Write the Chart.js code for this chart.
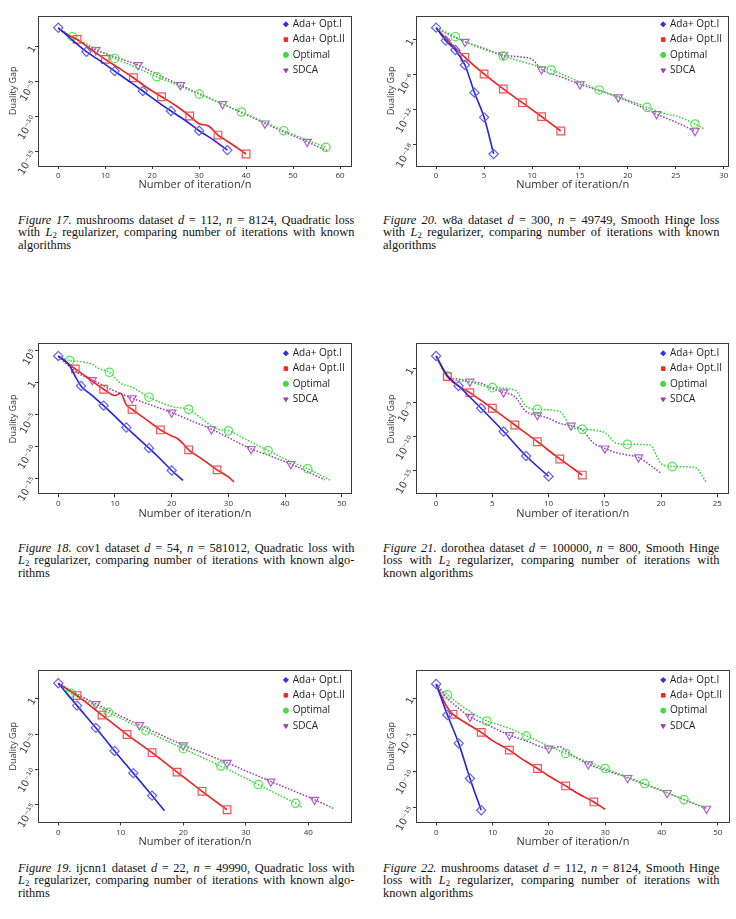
<!DOCTYPE html>
<html><head><meta charset="utf-8">
<script src="https://cdn.jsdelivr.net/npm/chart.js"></script>
<style>
body{margin:0;width:736px;height:919px;position:relative;background:#fff;overflow:hidden}
canvas{position:absolute}
.cap{position:absolute;width:325px;font-family:'Liberation Serif','Times New Roman',serif;font-size:12px;line-height:12.3px;color:#111;transform:scaleX(1.035);transform-origin:0 0}
.cap .j{text-align:justify;text-align-last:justify}
.cap sub{font-size:8.5px;vertical-align:-2px;line-height:0}
</style>
</head><body>
<div class="cap" style="left:18px;top:214px"><div class="j"><i>Figure 17.</i> mushrooms dataset <i>d</i> = 112, <i>n</i> = 8124, Quadratic loss</div><div class="j">with <i>L</i><sub>2</sub> regularizer, comparing number of iterations with known</div><div>algorithms</div></div>
<div class="cap" style="left:383px;top:214px"><div class="j"><i>Figure 20.</i> w8a dataset <i>d</i> = 300, <i>n</i> = 49749, Smooth Hinge loss</div><div class="j">with <i>L</i><sub>2</sub> regularizer, comparing number of iterations with known</div><div>algorithms</div></div>
<div class="cap" style="left:18px;top:542px"><div class="j"><i>Figure 18.</i> cov1 dataset <i>d</i> = 54, <i>n</i> = 581012, Quadratic loss with</div><div class="j"><i>L</i><sub>2</sub> regularizer, comparing number of iterations with known algo-</div><div>rithms</div></div>
<div class="cap" style="left:383px;top:542px"><div class="j"><i>Figure 21.</i> dorothea dataset <i>d</i> = 100000, <i>n</i> = 800, Smooth Hinge</div><div class="j">loss with <i>L</i><sub>2</sub> regularizer, comparing number of iterations with</div><div>known algorithms</div></div>
<div class="cap" style="left:18px;top:862px"><div class="j"><i>Figure 19.</i> ijcnn1 dataset <i>d</i> = 22, <i>n</i> = 49990, Quadratic loss with</div><div class="j"><i>L</i><sub>2</sub> regularizer, comparing number of iterations with known algo-</div><div>rithms</div></div>
<div class="cap" style="left:383px;top:862px"><div class="j"><i>Figure 22.</i> mushrooms dataset <i>d</i> = 112, <i>n</i> = 8124, Smooth Hinge</div><div class="j">loss with <i>L</i><sub>2</sub> regularizer, comparing number of iterations with</div><div>known algorithms</div></div>
<script>
// ---------- data ----------
const seriesNames = ['Ada+ Opt.I', 'Ada+ Opt.II', 'Optimal', 'SDCA'];
const xTitle = 'Number of iteration/n';
const yTitle = 'Duality Gap';

// Figure 17
const f17_x_opt1 = [0,3,6,9,12,15,18,21,24,27,30,33,36];
const f17_y_opt1 = [5.1e2,8.9,1.95e-1,8.9e-3,3.3e-4,1.26e-5,4.7e-7,1.6e-8,6.5e-10,3.16e-11,1e-12,5e-14,1.7e-15];
const f17_m_opt1 = [0,6,12,18,24,30,36];
const f17_x_opt2 = [0,2,4,7,10,13,16,19,22,25,28,30,32,34,36,38,40];
const f17_y_opt2 = [4.5e2,5.0e1,1.12e1,3.98e-1,1.55e-2,7.9e-4,3.7e-5,1.26e-6,7.2e-8,3.98e-9,1.26e-10,1e-11,4.7e-12,2.4e-13,3.16e-14,3.98e-15,4.7e-16];
const f17_m_opt2 = [4,10,16,22,28,34,40];
const f17_x_opt = [0,3,6,9,12,15,18,21,24,27,30,33,36,39,42,45,48,51,54,57];
const f17_y_opt = [4.5e2,2.7e1,2.5,2.5e-1,2.1e-2,3.16e-3,4.0e-4,5.1e-5,7.9e-6,1.12e-6,1.7e-7,2.5e-8,3.16e-9,4.7e-10,6.3e-11,7.9e-12,1e-12,1.58e-13,2.5e-14,4.2e-15];
const f17_m_opt = [3,12,21,30,39,48,57];
const f17_x_sdca = [0,2,5,8,11,14,17,20,23,26,29,32,35,38,41,44,47,50,53,56,57.5];
const f17_y_sdca = [4.5e2,5.0e1,4.0,3.3e-1,6.3e-2,1.26e-2,2.4e-3,2.5e-4,2.8e-5,3.3e-6,4.0e-7,5.0e-8,6.5e-9,7.9e-10,1e-10,1.12e-11,1.4e-12,2.0e-13,2.7e-14,3.16e-15,1.4e-15];
const f17_m_sdca = [8,17,26,35,44,53];
const f17_xticks = [0,10,20,30,40,50,60];
const f17_yticks = [1,1e-5,1e-10,1e-15];
const f17_ylabels = ['1','10⁻⁵','10⁻¹⁰','10⁻¹⁵'];

// Figure 20
const f20_x_opt1 = [0,1,2,3,4,5,6];
const f20_y_opt1 = [1.3e2,7.8e-1,1.95e-2,5.1e-5,9.3e-10,5.5e-14,2.9e-20];
const f20_m_opt1 = [0,1,2,3,4,5,6];
const f20_x_opt2 = [0,1,3,5,7,9,11,13];
const f20_y_opt2 = [1.2e2,2.0,1.07e-3,1.5e-6,4.0e-9,1.8e-11,7.2e-14,2.5e-16];
const f20_m_opt2 = [3,5,7,9,11,13];
const f20_x_opt = [0,2,3,5,7,10,12,14,17,20,22,24,25,27,28];
const f20_y_opt = [1.2e2,3.7,5.0e-1,2.5e-2,1.8e-3,6.3e-5,7.2e-6,3.16e-7,2.7e-9,5.0e-11,2.9e-12,2.0e-13,1e-13,4.0e-15,5.0e-16];
const f20_m_opt = [2,7,12,17,22,27];
const f20_x_sdca = [0,1,3,5,7,9,10,11,13,15,17,19,21,23,25,27];
const f20_y_sdca = [1.2e2,1.58e1,5.1e-1,3.7e-2,2.7e-3,1.12e-3,5.0e-4,9.3e-6,5.0e-7,2.5e-8,2.0e-9,1.5e-10,6.3e-12,2.0e-13,7.9e-15,2.5e-16];
const f20_m_sdca = [3,7,11,15,19,23,27];
const f20_xticks = [0,5,10,15,20,25,30];
const f20_yticks = [1,1e-6,1e-12,1e-18];
const f20_ylabels = ['1','10⁻⁶','10⁻¹²','10⁻¹⁸'];

// Figure 18
const f18_x_opt1 = [0,1,2,3,4,6,8,10,12,14,16,18,20,22];
const f18_y_opt1 = [1.3e4,3.16e3,4.0e2,7.9,2.7e-1,7.9e-3,2.2e-4,4.5e-6,8.3e-8,2.0e-9,4.9e-11,1e-12,1.58e-14,4.4e-16];
const f18_m_opt1 = [0,4,8,12,16,20];
const f18_x_opt2 = [0,1,3,5,8,10,11,12,13,15,18,20,21,22,23,25,28,30,31];
const f18_y_opt2 = [1.1e4,2.5e3,1.2e2,6.6,8.1e-2,8.3e-3,1.9e-2,2.9e-4,6.0e-5,3.16e-6,3.5e-8,4.0e-9,1.58e-9,2.5e-10,2.7e-11,1.58e-12,2.0e-14,1.58e-15,2.5e-16];
const f18_m_opt2 = [3,8,13,18,23,28];
const f18_x_opt = [0,2,4,6,7,9,11,13,16,19,21,23,25,28,30,33,37,40,44,46,48];
const f18_y_opt = [1.1e4,2.5e3,1.58e3,6.3e2,1.58e2,3.6e1,6.9e-1,1.66e-1,4.6e-3,3.16e-4,1.12e-4,6.0e-5,3.16e-6,5.0e-8,2.5e-8,1.26e-9,2.1e-11,1e-12,2.9e-14,4.0e-15,4.4e-16];
const f18_m_opt = [2,9,16,23,30,37,44];
const f18_x_sdca = [0,2,4,6,9,13,16,20,23,27,30,34,37,41,44,47];
const f18_y_sdca = [1.1e4,2.8e2,1.41e1,2.29,1e-1,3.16e-3,3.5e-4,1.8e-5,1.4e-6,4.6e-8,2.2e-9,3.8e-11,4.0e-12,1.7e-13,1e-14,5.5e-16];
const f18_m_sdca = [6,13,20,27,34,41];
const f18_xticks = [0,10,20,30,40,50];
const f18_yticks = [1e5,1,1e-5,1e-10,1e-15];
const f18_ylabels = ['10⁵','1','10⁻⁵','10⁻¹⁰','10⁻¹⁵'];

// Figure 21
const f21_x_opt1 = [0,1,2,4,6,8,10];
const f21_y_opt1 = [8.1e1,1e-1,3.16e-3,1.66e-6,6.3e-10,1.58e-13,1.58e-16];
const f21_m_opt1 = [0,2,4,6,8,10];
const f21_x_opt2 = [0,1,3,5,7,9,11,13];
const f21_y_opt2 = [8.1e1,7.4e-2,3.3e-4,1.66e-6,5.8e-9,2.0e-11,5.8e-14,2.5e-16];
const f21_m_opt2 = [1,3,5,7,9,11,13];
const f21_x_opt = [0,1,3,5,7,8,9,11,12,13,15,16,17,19,20,21,23,24];
const f21_y_opt = [8.1e1,9.3e-2,1.26e-2,1.8e-3,8.1e-4,3.16e-6,1.17e-6,5.4e-7,3.16e-9,1.35e-9,4.4e-10,1.26e-11,8.3e-12,6.6e-12,1.26e-14,4.4e-15,3.5e-15,2.7e-17];
const f21_m_opt = [1,5,9,13,17,21];
const f21_x_sdca = [0,1,2,3,4,5,6,7,8,9,10,11,12,13,14,15,16,17,18,19,20];
const f21_y_sdca = [8.1e1,9.3e-2,3.16e-2,1.4e-2,7.9e-3,1.26e-3,3.7e-4,8.5e-5,5.4e-7,1.7e-7,5.6e-8,1e-8,4.7e-9,1.07e-9,1.26e-11,2.1e-12,5.0e-13,2.2e-13,1e-13,7.9e-15,4.6e-16];
const f21_m_sdca = [3,6,9,12,15,18];
const f21_xticks = [0,5,10,15,20,25];
const f21_yticks = [1,1e-5,1e-10,1e-15];
const f21_ylabels = ['1','10⁻⁵','10⁻¹⁰','10⁻¹⁵'];

// Figure 19
const f19_x_opt1 = [0,3,6,9,12,15,17];
const f19_y_opt1 = [1.7e2,1.12e-1,7.9e-5,4.2e-8,3.0e-11,1.95e-14,1.4e-16];
const f19_m_opt1 = [0,3,6,9,12,15];
const f19_x_opt2 = [0,3,7,11,15,19,23,27];
const f19_y_opt2 = [1.6e2,3.0,5.1e-3,8.9e-6,2.4e-8,4.2e-11,7.9e-14,1.95e-16];
const f19_m_opt2 = [3,7,11,15,19,23,27];
const f19_x_opt = [0,2,5,8,11,14,17,20,23,26,29,32,35,38,39];
const f19_y_opt = [1.6e2,6.5,2.8e-1,1.26e-2,6.3e-4,3.0e-5,1.58e-6,8.9e-8,5.0e-9,3.0e-10,1.5e-11,7.2e-13,3.16e-14,1.55e-15,4.2e-16];
const f19_m_opt = [2,8,14,20,26,32,38];
const f19_x_sdca = [0,3,6,9,13,16,20,23,27,30,34,37,41,44];
const f19_y_sdca = [1.6e2,5.0,1.95e-1,1e-2,1.95e-4,1.15e-5,2.7e-7,2.5e-8,8.9e-10,6.3e-11,1.95e-12,1.58e-13,5.1e-15,3.0e-16];
const f19_m_sdca = [6,13,20,27,34,41];
const f19_xticks = [0,10,20,30,40];
const f19_yticks = [1,1e-5,1e-10,1e-15];
const f19_ylabels = ['1','10⁻⁵','10⁻¹⁰','10⁻¹⁵'];

// Figure 22
const f22_x_opt1 = [0,2,4,6,8];
const f22_y_opt1 = [9.3e1,5.1e-3,6.5e-7,1e-11,4.3e-16];
const f22_m_opt1 = [0,2,4,6,8];
const f22_x_opt2 = [0,1,2,3,5,8,10,13,15,18,20,23,25,28,30];
const f22_y_opt2 = [8.5e1,1.7,5.2e-2,6.3e-3,5.6e-4,2.1e-5,1.58e-6,7.8e-8,6.3e-9,2.3e-10,2.2e-11,9.5e-13,1e-13,6.0e-15,5.9e-16];
const f22_m_opt2 = [3,8,13,18,23,28];
const f22_x_opt = [0,2,5,9,11,13,16,19,23,26,30,33,37,40,44,48];
const f22_y_opt = [8.5e1,2.9,5.0e-2,7.6e-4,2.5e-4,7.4e-5,7.2e-6,6.3e-7,2.7e-8,3.5e-9,2.3e-10,3.16e-11,2.0e-12,2.5e-13,1.26e-14,8.9e-16];
const f22_m_opt = [2,9,16,23,30,37,44];
const f22_x_sdca = [0,2,4,6,9,13,16,20,22,23,27,30,34,37,41,44,48];
const f22_y_sdca = [8.5e1,1.0,4.2e-2,3.0e-3,2.5e-4,8.9e-6,1.4e-6,1.3e-7,2.2e-7,6.3e-8,9.1e-10,1.4e-10,1.2e-11,1.58e-12,1.05e-13,1.26e-14,7.2e-16];
const f22_m_sdca = [6,13,20,27,34,41,48];
const f22_xticks = [0,10,20,30,40,50];
const f22_yticks = [1,1e-5,1e-10,1e-15];
const f22_ylabels = ['1','10⁻⁵','10⁻¹⁰','10⁻¹⁵'];

// ---------- styles ----------
const FONT = "'Open Sans','DejaVu Sans',sans-serif";
const STYLES = [
  {line:'#2424e0', mark:'#6060f4', fill:'#3030e0', w:1.6, dash:[], pt:'rectRot', rot:0, r:4.6},
  {line:'#ec2020', mark:'#f45050', fill:'#ec2828', w:1.6, dash:[], pt:'rect', rot:0, r:5.4},
  {line:'#34d834', mark:'#50e650', fill:'#40dc40', w:1.5, dash:[1.6,1.6], pt:'circle', rot:0, r:4.2},
  {line:'#9a3cb8', mark:'#ae60c8', fill:'#9a40b8', w:1.5, dash:[1.6,1.6], pt:'triangle', rot:180, r:4.8}
];

// ---------- layout of the six panels ----------
const PANELS = [
  {cx:0,   cy:0,   L:38,  T:15.5,  R:352, B:166,   xmin:-4.32, xmax:62.55, ymin:9.1e-18, ymax:2.9e4, xt:f17_xticks, yt:f17_yticks, yl:f17_ylabels, lgX:292.7, lgY:24.3,
   s:[[f17_x_opt1,f17_y_opt1,f17_m_opt1],[f17_x_opt2,f17_y_opt2,f17_m_opt2],[f17_x_opt,f17_y_opt,f17_m_opt],[f17_x_sdca,f17_y_sdca,f17_m_sdca]]},
  {cx:368, cy:0,   L:416, T:15.5,  R:732, B:166,   xmin:-2.1,  xmax:30.59, ymin:2.5e-22, ymax:1.58e4, xt:f20_xticks, yt:f20_yticks, yl:f20_ylabels, lgX:670, lgY:24.3,
   s:[[f20_x_opt1,f20_y_opt1,f20_m_opt1],[f20_x_opt2,f20_y_opt2,f20_m_opt2],[f20_x_opt,f20_y_opt,f20_m_opt],[f20_x_sdca,f20_y_sdca,f20_m_sdca]]},
  {cx:0,   cy:328, L:38,  T:343.3, R:352, B:494.3, xmin:-3.58, xmax:51.8, ymin:3.16e-18, ymax:1.23e6, xt:f18_xticks, yt:f18_yticks, yl:f18_ylabels, lgX:292.7, lgY:353.3,
   s:[[f18_x_opt1,f18_y_opt1,f18_m_opt1],[f18_x_opt2,f18_y_opt2,f18_m_opt2],[f18_x_opt,f18_y_opt,f18_m_opt],[f18_x_sdca,f18_y_sdca,f18_m_sdca]]},
  {cx:368, cy:328, L:416, T:343.3, R:732, B:494.3, xmin:-1.79, xmax:26.08, ymin:3.7e-19, ymax:6.0e3, xt:f21_xticks, yt:f21_yticks, yl:f21_ylabels, lgX:670, lgY:353.3,
   s:[[f21_x_opt1,f21_y_opt1,f21_m_opt1],[f21_x_opt2,f21_y_opt2,f21_m_opt2],[f21_x_opt,f21_y_opt,f21_m_opt],[f21_x_sdca,f21_y_sdca,f21_m_sdca]]},
  {cx:0,   cy:655, L:38,  T:670,   R:352, B:822.5, xmin:-3.25, xmax:47.0, ymin:3.3e-18, ymax:1.26e4, xt:f19_xticks, yt:f19_yticks, yl:f19_ylabels, lgX:292.7, lgY:680,
   s:[[f19_x_opt1,f19_y_opt1,f19_m_opt1],[f19_x_opt2,f19_y_opt2,f19_m_opt2],[f19_x_opt,f19_y_opt,f19_m_opt],[f19_x_sdca,f19_y_sdca,f19_m_sdca]]},
  {cx:368, cy:655, L:416, T:670,   R:732, B:822.5, xmin:-3.58, xmax:52.17, ymin:9.1e-18, ymax:7.6e3, xt:f22_xticks, yt:f22_yticks, yl:f22_ylabels, lgX:670, lgY:680,
   s:[[f22_x_opt1,f22_y_opt1,f22_m_opt1],[f22_x_opt2,f22_y_opt2,f22_m_opt2],[f22_x_opt,f22_y_opt,f22_m_opt],[f22_x_sdca,f22_y_sdca,f22_m_sdca]]}
];

const CW = 368, CH = 205;
const LG_PAD = 5.3, LG_FONT = 10, LG_BOX = 3.6;

const framePlugin = {
  id: 'frame',
  afterDatasetsDraw(chart) {
    const {ctx, chartArea: a} = chart;
    ctx.save();
    ctx.strokeStyle = '#3a3a3a';
    ctx.lineWidth = 1;
    ctx.strokeRect(Math.round(a.left) + 0.5, Math.round(a.top) + 0.5, Math.round(a.right - a.left) - 1, Math.round(a.bottom - a.top) - 1);
    ctx.restore();
  }
};

function legendMover(p) {
  return {
    id: 'legendMover',
    afterLayout(chart) {
      const lg = chart.legend;
      if (!lg) return;
      lg.left = p.lgX - (LG_PAD + LG_BOX + LG_FONT / 2) - p.cx;
      lg.top = p.lgY - (LG_PAD + LG_FONT / 2) - p.cy;
      lg.right = lg.left + lg.width;
      lg.bottom = lg.top + 150;
    }
  };
}

function makeDataset(k, xs, ys, marks) {
  const st = STYLES[k];
  return {
    label: seriesNames[k],
    data: xs.map((x, i) => ({x: x, y: ys[i]})),
    borderColor: st.line,
    borderWidth: st.w,
    borderDash: st.dash,
    backgroundColor: st.fill,
    fill: false,
    cubicInterpolationMode: 'monotone',
    pointStyle: st.pt,
    pointRotation: st.rot,
    pointRadius: (c) => (c.raw && marks.includes(c.raw.x)) ? st.r : 0,
    pointHoverRadius: 0,
    pointBorderColor: st.mark,
    pointBackgroundColor: 'rgba(0,0,0,0)',
    pointBorderWidth: 1.2,
    legendFill: st.fill
  };
}

function build(p) {
  const cv = document.createElement('canvas');
  cv.width = CW; cv.height = CH;
  cv.style.left = p.cx + 'px';
  cv.style.top = p.cy + 'px';
  document.body.appendChild(cv);
  const Wy = p.L - p.cx;
  const Hx = p.cy + CH - p.B;
  const datasets = p.s.map((s, k) => makeDataset(k, s[0], s[1], s[2]));
  new Chart(cv, {
    type: 'line',
    data: {datasets},
    options: {
      responsive: false,
      animation: false,
      devicePixelRatio: 1,
      events: [],
      layout: {padding: {left: 0, top: p.T - p.cy, right: p.cx + CW - p.R, bottom: 0}},
      scales: {
        x: {
          type: 'linear', min: p.xmin, max: p.xmax,
          afterBuildTicks: (sc) => { sc.ticks = p.xt.map(v => ({value: v})); },
          afterFit: (sc) => { sc.height = Hx; },
          ticks: {autoSkip: false, maxRotation: 0, minRotation: 0, padding: 2, color: '#333', font: {family: FONT, size: 8}, callback: (v) => String(v)},
          grid: {display: true, drawOnChartArea: false, drawTicks: true, tickLength: 3, color: '#333', tickColor: '#333', tickWidth: 1},
          border: {display: false},
          title: {display: true, text: xTitle, color: '#333', font: {family: FONT, size: 11}, padding: {top: 0, bottom: Hx - 25.9}}
        },
        y: {
          type: 'logarithmic', min: p.ymin, max: p.ymax,
          afterBuildTicks: (sc) => { sc.ticks = p.yt.map(v => ({value: v})); },
          afterFit: (sc) => { sc.width = Wy; },
          ticks: {autoSkip: false, minRotation: 60, maxRotation: 60, padding: 1, color: '#333', font: {family: "'DejaVu Sans',sans-serif", size: 10}, callback: (v, i) => p.yl[i]},
          grid: {display: true, drawOnChartArea: false, drawTicks: true, tickLength: 3, color: '#333', tickColor: '#333', tickWidth: 1},
          border: {display: false},
          title: {display: true, text: yTitle, color: '#333', font: {family: FONT, size: 9}, padding: {top: Wy - 29.9, bottom: 0}}
        }
      },
      plugins: {
        tooltip: {enabled: false},
        legend: {
          position: 'chartArea', align: 'start',
          labels: {
            usePointStyle: true, boxWidth: LG_BOX, boxHeight: LG_BOX, padding: LG_PAD,
            color: '#222', font: {family: FONT, size: LG_FONT},
            generateLabels: (chart) => chart.data.datasets.map((d, i) => ({
              text: d.label, fillStyle: d.legendFill, strokeStyle: d.legendFill, fontColor: '#222',
              lineWidth: 1, pointStyle: d.pointStyle, rotation: d.pointRotation || 0,
              datasetIndex: i, hidden: false
            }))
          }
        }
      }
    },
    plugins: [framePlugin, legendMover(p)]
  });
}

PANELS.forEach(build);
</script>
</body></html>
